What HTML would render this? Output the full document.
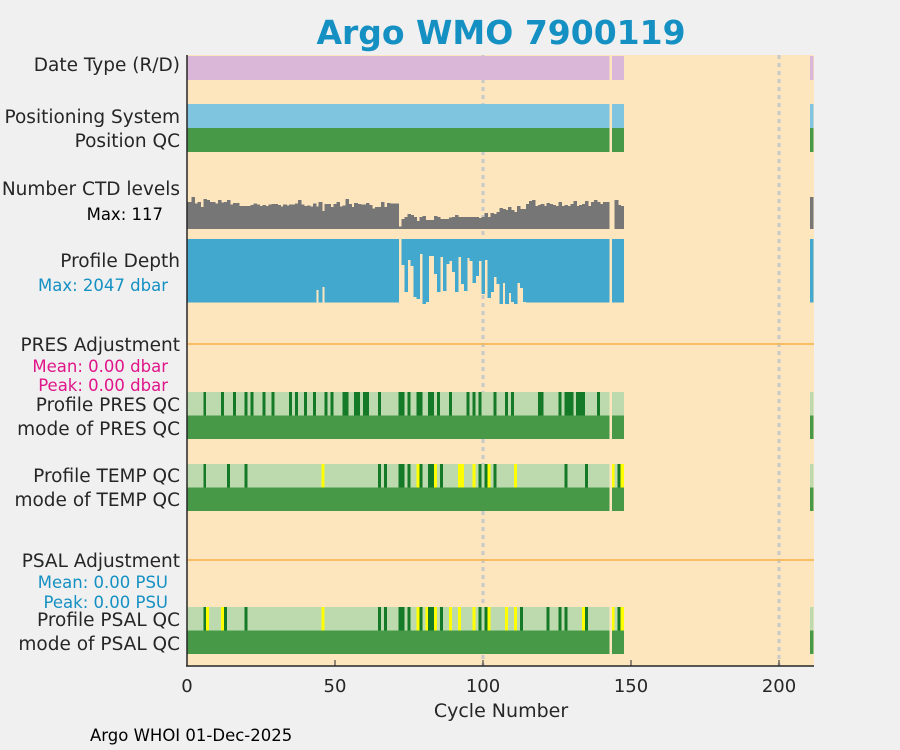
<!DOCTYPE html>
<html><head><meta charset="utf-8"><style>
html,body{margin:0;padding:0;background:#f0f0f0;}
svg{display:block;font-family:"DejaVu Sans","Liberation Sans",sans-serif;}
#marks rect{shape-rendering:crispEdges;}
</style></head><body>
<svg id="chart" width="900" height="750" viewBox="0 0 900 750">
<rect x="0" y="0" width="900" height="750" fill="#f0f0f0"/>
<text x="501" y="44" text-anchor="middle" font-size="33" font-weight="bold" fill="#1590c2">Argo WMO 7900119</text>
<rect x="187" y="55" width="627" height="611" fill="#fde6bd"/>
<g id="grid"></g>
<g id="marks"></g>
<g font-size="18.5" fill="#262626" text-anchor="end">
<text x="180" y="71">Date Type (R/D)</text>
<text x="180" y="123">Positioning System</text>
<text x="180" y="147">Position QC</text>
<text x="180" y="195">Number CTD levels</text>
<text x="163" y="220" font-size="16.5" fill="#000">Max: 117</text>
<text x="180" y="267">Profile Depth</text>
<text x="168" y="291" font-size="16.5" fill="#1590c2">Max: 2047 dbar</text>
<text x="180" y="351">PRES Adjustment</text>
<text x="168" y="372" font-size="16.5" fill="#e0158a">Mean: 0.00 dbar</text>
<text x="168" y="391" font-size="16.5" fill="#e0158a">Peak: 0.00 dbar</text>
<text x="180" y="411">Profile PRES QC</text>
<text x="180" y="435">mode of PRES QC</text>
<text x="180" y="482">Profile TEMP QC</text>
<text x="180" y="506">mode of TEMP QC</text>
<text x="180" y="567">PSAL Adjustment</text>
<text x="168" y="588" font-size="16.5" fill="#1590c2">Mean: 0.00 PSU</text>
<text x="168" y="608" font-size="16.5" fill="#1590c2">Peak: 0.00 PSU</text>
<text x="180" y="626">Profile PSAL QC</text>
<text x="180" y="650">mode of PSAL QC</text>
</g>
<line x1="187" y1="55" x2="187" y2="666" stroke="#262626" stroke-width="1.5"/>
<line x1="186" y1="666" x2="814" y2="666" stroke="#262626" stroke-width="1.5"/>
<g id="xticks" font-size="18" fill="#262626" text-anchor="middle"></g>
<text x="501" y="717" text-anchor="middle" font-size="19" fill="#262626">Cycle Number</text>
<text x="90" y="741" font-size="16.5" fill="#000">Argo WHOI 01-Dec-2025</text>
</svg>
<script>
const xTicks = [0, 50, 100, 150, 200];
const gridCycles = [100, 200];
const ctdLevels = [93,93,110,87,93,76,103,100,93,93,87,100,91,93,100,84,89,89,79,79,79,79,83,88,85,79,83,79,84,86,86,83,77,84,81,84,84,87,100,84,79,81,77,88,77,93,62,86,86,76,86,93,78,81,103,86,75,89,86,84,84,89,83,71,76,76,93,76,89,87,87,87,
8,34,41,52,48,41,28,41,45,31,31,31,45,41,34,34,34,39,41,48,41,41,41,41,41,41,41,38,41,55,41,55,52,58,72,69,65,76,65,58,79,69,69,86,96,100,79,83,86,79,89,86,83,79,93,79,83,79,86,96,79,83,86,96,79,93,100,93,86,93,93,
null,100,83,80,117];
const depthChange = [73,74,75,76,77,78,79,80,81,82,83,84,85,86,87,88,89,90,91,92,93,94,95,96,97,98,99,100,101,102,103,104,105,106,107,108,109,110,111,112,113,114];
const depthChangeVals = [819,1670,661,850,1827,1890,472,2047,1985,535,535,1103,1670,567,1638,788,693,1040,1670,567,1418,1638,599,693,1386,1166,693,1733,661,1859,1670,1197,1418,2047,1386,2047,1701,1985,2047,1386,1544,1985];
const depthShallowCycles = [44, 46];
const depthShallowVals = [1607, 1512];
const depthTypical = 2000;
const ctdLastCycle = 211, ctdLastVal = 110;
const missingCycles = [72];
const gapCycles = [143];
const presDark = [6,12,16,20,22,26,29,35,37,40,43,47,49,53,54,57,58,60,61,65,72,73,75,78,79,82,83,85,89,95,97,99,104,108,110,119,120,126,128,129,130,132,133,134,139];
const tempDark = [6,14,20,65,67,72,73,75,79,82,83,86,99,101,104,128,135,146];
const tempYellow = [46,78,84,92,93,97,102,111,144,147];
const psalDark = [6,13,20,65,67,72,73,75,79,82,83,86,99,101,113,122,126,128,135,146];
const psalYellow = [7,12,46,78,81,84,89,92,97,102,108,111,134,144,147];

const X0 = 187, SX = 2.96, XMAX = 211.5;
function xs(c){ return X0 + c*SX; }
const NS = 'http://www.w3.org/2000/svg';
const marks = document.getElementById('marks');
const grid = document.getElementById('grid');
function rect(parent, c, y, h, fill){
  const a = Math.max(0, c-0.5), b = Math.min(XMAX, c+0.5);
  const r = document.createElementNS(NS,'rect');
  r.setAttribute('x', xs(a)); r.setAttribute('width', xs(b)-xs(a)+0.6);
  r.setAttribute('y', y); r.setAttribute('height', h); r.setAttribute('fill', fill);
  parent.appendChild(r); return r;
}
const cycles = [];
for (let k=0;k<=147;k++) if (!gapCycles.includes(k)) cycles.push(k);
cycles.push(ctdLastCycle);

gridCycles.forEach(g=>{
  const l = document.createElementNS(NS,'line');
  l.setAttribute('x1', xs(g)); l.setAttribute('x2', xs(g));
  l.setAttribute('y1', 55); l.setAttribute('y2', 666);
  l.setAttribute('stroke', '#c8c8c8'); l.setAttribute('stroke-width', 3);
  l.setAttribute('stroke-dasharray', '4 4');
  
  
  grid.appendChild(l);
});

cycles.forEach(k=>{
  let r;
  r = rect(marks,k,56,24,'#dab6d8');
  
  
  r = rect(marks,k,104,24,'#7fc5df');
  
  
  r = rect(marks,k,128,24,'#479947');
  
  
  const v = k===ctdLastCycle ? ctdLastVal : ctdLevels[k<143?k:k-1];
  if (v!=null){
    const h = v/117*34;
    r = rect(marks,k,229-h,h,'#767676');
    
    
  }
  if (!missingCycles.includes(k)){
    let d = depthTypical;
    const i1 = depthChange.indexOf(k); if (i1>=0) d = depthChangeVals[i1];
    const i2 = depthShallowCycles.indexOf(k); if (i2>=0) d = depthShallowVals[i2];
    r = rect(marks,k,239,d/2047*65,'#42a8cd');
    
    
  }
  const rows = [[392,presDark,[]],[464,tempDark,tempYellow],[607,psalDark,psalYellow]];
  rows.forEach(([y,dk,yl])=>{
    let col = '#bddaae';
    if (dk.includes(k)) col = '#157a28';
    if (yl.includes(k)) col = '#ffff00';
    r = rect(marks,k,y,23.5,col);
    
    
    r = rect(marks,k,y+23.5,23.5,'#479947');
    
    
  });
});
[344,560].forEach(y=>{
  const l = document.createElementNS(NS,'line');
  l.setAttribute('x1', 187); l.setAttribute('x2', 814);
  l.setAttribute('y1', y); l.setAttribute('y2', y);
  l.setAttribute('stroke', '#f7b043'); l.setAttribute('stroke-width', 1.5);
  
  
  marks.appendChild(l);
});
const xt = document.getElementById('xticks');
xTicks.forEach(t=>{
  const l = document.createElementNS(NS,'line');
  l.setAttribute('x1', xs(t)); l.setAttribute('x2', xs(t));
  l.setAttribute('y1', 660); l.setAttribute('y2', 666);
  l.setAttribute('stroke', '#262626'); l.setAttribute('stroke-width', 1);
  
  
  xt.appendChild(l);
  const tx = document.createElementNS(NS,'text');
  tx.setAttribute('x', xs(t)); tx.setAttribute('y', 692);
  tx.textContent = t;
  
  
  xt.appendChild(tx);
});
</script>
</body></html>
